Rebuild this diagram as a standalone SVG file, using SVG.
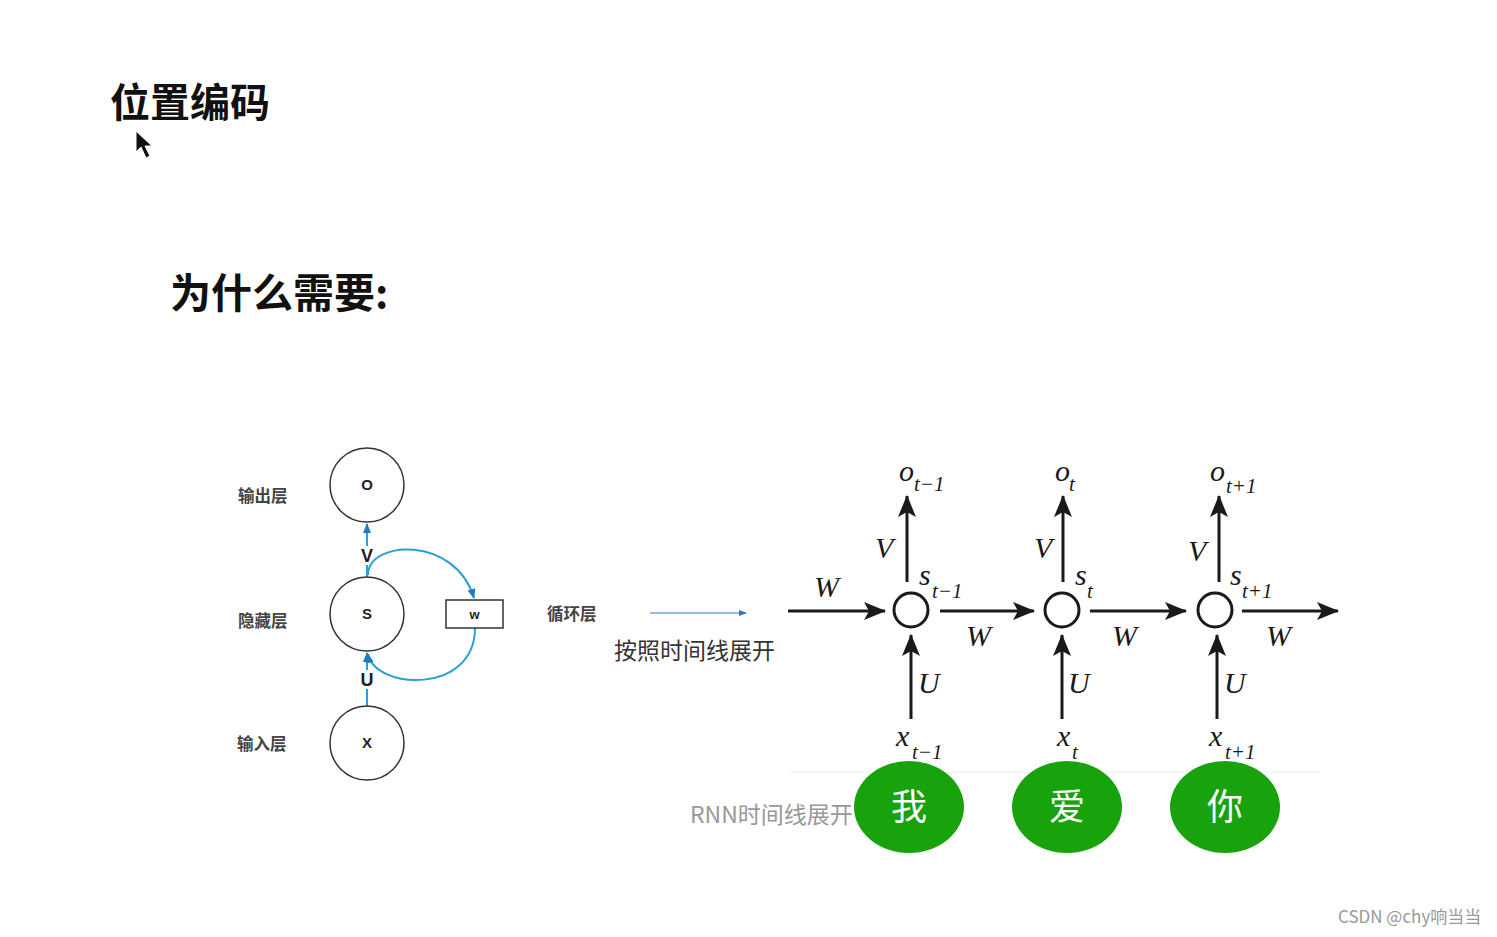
<svg xmlns="http://www.w3.org/2000/svg" width="1497" height="937" viewBox="0 0 1497 937">
<style>
.cjk{font-family:"Noto Sans CJK SC","Noto Sans",sans-serif}
.h{font-weight:bold;fill:#111}
.lbl{font-family:"Noto Sans CJK SC","Noto Sans",sans-serif;font-size:16.5px;font-weight:bold;fill:#444}
.nd{fill:#fff;stroke:#333;stroke-width:1.5}
.nt{font-family:"Liberation Sans",sans-serif;font-size:15px;font-weight:bold;fill:#222;text-anchor:middle}
.nt.lg{font-size:18px}
.nt.sm{font-size:13px}
.blue{fill:none;stroke:#2aa0d4;stroke-width:2}
.blk{fill:none;stroke:#1a1a1a;stroke-width:3}
.m{font-family:"Liberation Serif",serif;font-style:italic;fill:#1a1a1a}
.big{font-size:30px}
.sub{font-size:21px}
.rc{fill:#fff;stroke:#1a1a1a;stroke-width:3}
.gr{fill:#18a20c}
.gt{font-family:"Noto Sans CJK SC",sans-serif;font-size:36px;fill:#fff;text-anchor:middle}
</style>
<defs>
<marker id="ab" markerWidth="10" markerHeight="10" refX="9" refY="5" orient="auto" markerUnits="userSpaceOnUse"><path d="M0,1 L10,5 L0,9 z" fill="#1a7fc0"/></marker>
<marker id="ak" markerWidth="22" markerHeight="18" refX="21" refY="9" orient="auto" markerUnits="userSpaceOnUse"><path d="M0,0 L22,9 L0,18 L5,9 z" fill="#1a1a1a"/></marker>
<marker id="at" markerWidth="8" markerHeight="8" refX="7" refY="4" orient="auto" markerUnits="userSpaceOnUse"><path d="M0,1 L8,4 L0,7 z" fill="#3a6fd8"/></marker>
</defs>
<rect width="1497" height="937" fill="#fff"/>

<g id="titles">
<text class="cjk h" x="110" y="117" font-size="40">位置编码</text>
<text class="cjk h" x="170" y="308" font-size="41">为什么需要:</text>
<path d="M136,131 L136,152 L141,147 L146,158 L150,156 L145,146 L152,146 z" fill="#111" stroke="#fff" stroke-width="1"/>
</g>

<g id="connectors">
<line x1="367" y1="577" x2="367" y2="524" class="blue" marker-end="url(#ab)"/>
<line x1="367" y1="706" x2="367" y2="653" class="blue" marker-end="url(#ab)"/>
<rect x="359" y="546" width="16" height="19" fill="#fff"/>
<rect x="359" y="670" width="16" height="19" fill="#fff"/>
<path d="M368,575 C368,540 455,535 474,598" class="blue" marker-end="url(#ab)"/>
<path d="M475,628 C475,695 375,690 368,654" class="blue" marker-end="url(#ab)"/>
<line x1="650" y1="613" x2="746" y2="613" stroke="#3a6fd8" stroke-width="1.2" marker-end="url(#at)"/>
<line x1="788" y1="611" x2="885" y2="611" class="blk" marker-end="url(#ak)"/>
<line x1="940" y1="611" x2="1034" y2="611" class="blk" marker-end="url(#ak)"/>
<line x1="1090" y1="611" x2="1186" y2="611" class="blk" marker-end="url(#ak)"/>
<line x1="1242" y1="611" x2="1338" y2="611" class="blk" marker-end="url(#ak)"/>
<line x1="907" y1="582" x2="907" y2="496" class="blk" marker-end="url(#ak)"/>
<line x1="1063" y1="582" x2="1063" y2="496" class="blk" marker-end="url(#ak)"/>
<line x1="1219" y1="582" x2="1219" y2="496" class="blk" marker-end="url(#ak)"/>
<line x1="911" y1="719" x2="911" y2="635" class="blk" marker-end="url(#ak)"/>
<line x1="1062" y1="719" x2="1062" y2="635" class="blk" marker-end="url(#ak)"/>
<line x1="1217" y1="719" x2="1217" y2="635" class="blk" marker-end="url(#ak)"/>
<line x1="790" y1="772" x2="1320" y2="772" stroke="#eeeeee" stroke-width="1"/>
</g>

<g id="left-labels">
<text class="lbl" x="238" y="502">输出层</text>
<text class="lbl" x="238" y="627">隐藏层</text>
<text class="lbl" x="237" y="750">输入层</text>
<text class="lbl" x="547" y="620">循环层</text>
<text class="nt lg" x="367" y="562">V</text>
<text class="nt lg" x="367" y="686">U</text>
</g>

<g id="node-O"><circle cx="367" cy="485" r="37" class="nd"/><text class="nt" x="367" y="490">O</text></g>
<g id="node-S"><circle cx="367" cy="614" r="37" class="nd"/><text class="nt" x="367" y="619">S</text></g>
<g id="node-X"><circle cx="367" cy="743" r="37" class="nd"/><text class="nt" x="367" y="748">X</text></g>
<g id="node-w"><rect x="446" y="600" width="57" height="28" class="nd"/><text class="nt sm" x="474.5" y="619">w</text></g>

<g id="unfold-label">
<text class="cjk" x="614" y="659" font-size="23" fill="#333">按照时间线展开</text>
<text class="cjk" x="690" y="823" font-size="23" fill="#999">RNN时间线展开</text>
</g>

<g id="rnn-labels">
<text class="m big" x="814" y="597">W</text>
<text class="m big" x="966" y="646">W</text>
<text class="m big" x="1112" y="646">W</text>
<text class="m big" x="1266" y="646">W</text>
<text class="m big" x="875" y="558">V</text>
<text class="m big" x="1034" y="558">V</text>
<text class="m big" x="1188" y="561">V</text>
<text class="m big" x="918" y="693">U</text>
<text class="m big" x="1068" y="693">U</text>
<text class="m big" x="1224" y="693">U</text>
<text class="m big" x="899" y="481">o</text><text class="m sub" x="914" y="491">t−1</text>
<text class="m big" x="1055" y="481">o</text><text class="m sub" x="1069" y="491">t</text>
<text class="m big" x="1210" y="481">o</text><text class="m sub" x="1226" y="493">t+1</text>
<text class="m big" x="919" y="585">s</text><text class="m sub" x="932" y="598">t−1</text>
<text class="m big" x="1075" y="585">s</text><text class="m sub" x="1087" y="598">t</text>
<text class="m big" x="1230" y="585">s</text><text class="m sub" x="1242" y="598">t+1</text>
<text class="m big" x="896" y="746">x</text><text class="m sub" x="912" y="759">t−1</text>
<text class="m big" x="1057" y="746">x</text><text class="m sub" x="1072" y="759">t</text>
<text class="m big" x="1209" y="746">x</text><text class="m sub" x="1225" y="759">t+1</text>
</g>

<g id="rnn-s1"><circle cx="911" cy="610" r="17" class="rc"/></g>
<g id="rnn-s2"><circle cx="1062" cy="610" r="17" class="rc"/></g>
<g id="rnn-s3"><circle cx="1215" cy="610" r="17" class="rc"/></g>

<g id="word-1"><ellipse cx="909" cy="807" rx="55" ry="46" class="gr"/><text class="gt" x="909" y="820">我</text></g>
<g id="word-2"><ellipse cx="1067" cy="807" rx="55" ry="46" class="gr"/><text class="gt" x="1067" y="820">爱</text></g>
<g id="word-3"><ellipse cx="1225" cy="807" rx="55" ry="46" class="gr"/><text class="gt" x="1225" y="820">你</text></g>

<g id="watermark"><text class="cjk" x="1338" y="923" font-size="17" fill="#999">CSDN @chy响当当</text></g>
</svg>
